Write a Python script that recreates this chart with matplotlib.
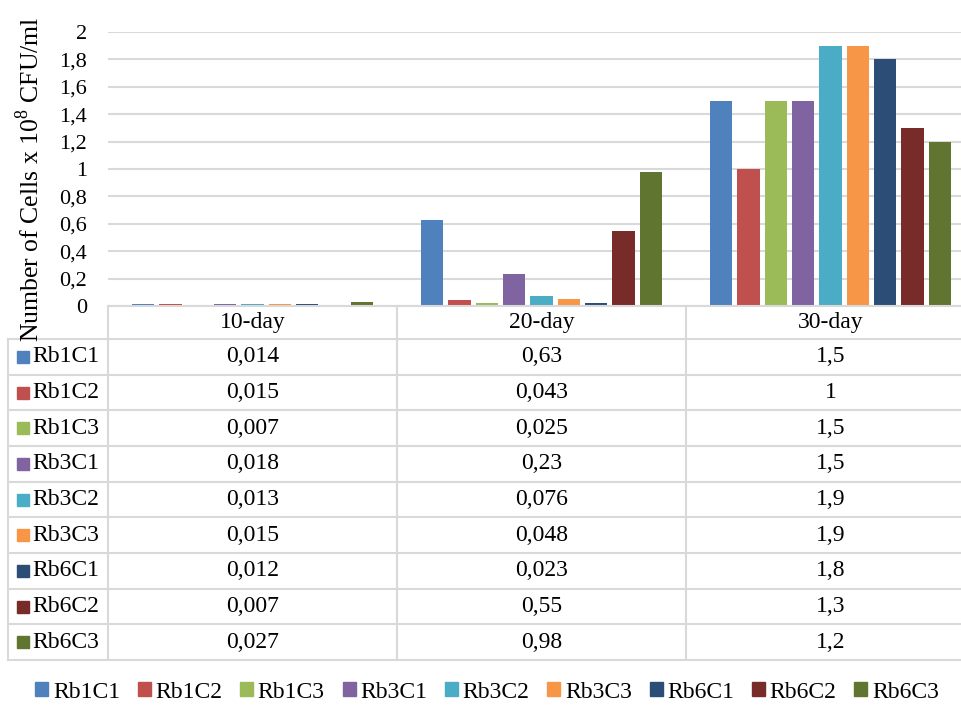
import matplotlib
matplotlib.use('Agg')
import matplotlib.pyplot as plt
from matplotlib.patches import Patch, Rectangle
from matplotlib.lines import Line2D
import numpy as np

plt.rcParams['font.family'] = ['Liberation Serif', 'DejaVu Serif']
plt.rcParams['mathtext.fontset'] = 'custom'
plt.rcParams['mathtext.rm'] = 'Liberation Serif'

# data
days = ['10-day', '20-day', '30-day']
series = ['Rb1C1', 'Rb1C2', 'Rb1C3', 'Rb3C1', 'Rb3C2', 'Rb3C3', 'Rb6C1', 'Rb6C2', 'Rb6C3']
rb1c1 = [0.014, 0.63, 1.5]
rb1c2 = [0.015, 0.043, 1]
rb1c3 = [0.007, 0.025, 1.5]
rb3c1 = [0.018, 0.23, 1.5]
rb3c2 = [0.013, 0.076, 1.9]
rb3c3 = [0.015, 0.048, 1.9]
rb6c1 = [0.012, 0.023, 1.8]
rb6c2 = [0.007, 0.55, 1.3]
rb6c3 = [0.027, 0.98, 1.2]
values = [rb1c1, rb1c2, rb1c3, rb3c1, rb3c2, rb3c3, rb6c1, rb6c2, rb6c3]
colors = ['#4F81BD', '#C0504D', '#9BBB59', '#8064A2', '#4BACC6', '#F79646',
          '#2C4D75', '#772C2A', '#5F7530']

W, H = 962, 705
FS = 17
GRID = '#D9D9D9'

def fx(px):
    return px / W

def fy(py):
    return 1 - py / H

def fmt(v):
    return ('%g' % v).replace('.', ',')

fig = plt.figure(figsize=(W / 100, H / 100), dpi=100)

# plot area in pixels: left 108, right 975, top 32, bottom 306
ax = fig.add_axes([fx(108), fy(306), fx(975) - fx(108), fy(32) - fy(306)])
x = np.arange(len(days))
slot = 0.0945
for i, s in enumerate(series):
    ax.bar(x + (i - 4) * slot, values[i], width=0.077, color=colors[i],
           linewidth=0, zorder=3)

ax.set_xlim(-0.5, 2.5)
ax.set_ylim(0, 2)
ticks = np.arange(0, 2.01, 0.2)
ax.set_yticks(ticks)
ax.set_yticklabels([fmt(round(t, 1)) for t in ticks], fontsize=16)
ax.set_xticks([])
ax.tick_params(axis='y', length=0, pad=15)
ax.grid(axis='y', color=GRID, linewidth=1.5, zorder=0)
for sp in ax.spines.values():
    sp.set_visible(False)

fig.text(fx(30), fy(179), 'Number of Cells x 10$^{8}$ CFU/ml', rotation=90,
         ha='center', va='center', fontsize=18.5)

# data table below the axis
top = 306
head_bot = 339
row_h = (660 - head_bot) / len(series)
col_edges = [108, 397, 686, 975]
col_mid = [(col_edges[j] + col_edges[j + 1]) / 2 for j in range(3)]

def hline(y, x0, x1):
    fig.add_artist(Line2D([fx(x0), fx(x1)], [fy(y), fy(y)], color=GRID, linewidth=1.5))

def vline(xp, y0, y1):
    fig.add_artist(Line2D([fx(xp), fx(xp)], [fy(y0), fy(y1)], color=GRID, linewidth=1.5))

hline(top, 108, 975)
for r in range(len(series) + 1):
    hline(head_bot + r * row_h, 8, 975)
vline(8, head_bot, 660)
for xe in col_edges[:3]:
    vline(xe, top, 660)

for j, d in enumerate(days):
    fig.text(fx(col_mid[j]), fy((top + head_bot) / 2), d, ha='center', va='center', fontsize=FS)

for i, s in enumerate(series):
    yc = head_bot + (i + 0.5) * row_h
    fig.add_artist(Rectangle((fx(17), fy(yc + 6)), fx(12), fy(0) - fy(12), color=colors[i],
                             transform=fig.transFigure))
    fig.text(fx(32), fy(yc), s, ha='left', va='center', fontsize=FS)
    for j in range(len(days)):
        fig.text(fx(col_mid[j]), fy(yc), fmt(values[i][j]), ha='center', va='center', fontsize=FS)

handles = [Patch(color=c, label=s) for s, c in zip(series, colors)]
fig.legend(handles=handles, loc='center', bbox_to_anchor=(fx(487), fy(692)), ncol=9,
           frameon=False, fontsize=FS, handlelength=0.55, handleheight=0.55,
           handletextpad=0.2, columnspacing=0.75)

fig.savefig('out.png', dpi=100)
